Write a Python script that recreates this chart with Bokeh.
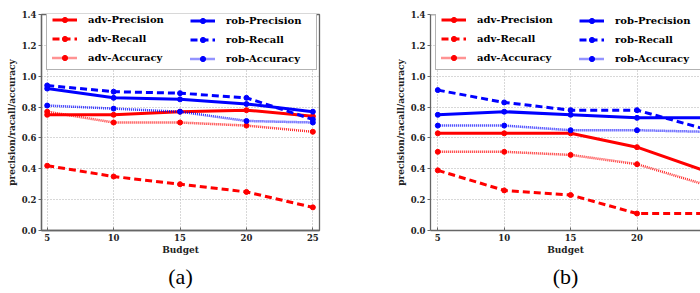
from bokeh.plotting import figure
from bokeh.layouts import row
from bokeh.models import (Range1d, FixedTicker, Legend, LegendItem, Title, Span,
                          PrintfTickFormatter)
from bokeh.embed import file_html
from bokeh.resources import INLINE

# ---------------- data ----------------
budget = [5, 10, 15, 20, 25]
y_ticks = [0.0, 0.2, 0.4, 0.6, 0.8, 1.0, 1.2, 1.4]

series_names = ["adv-Precision", "adv-Recall", "adv-Accuracy",
                "rob-Precision", "rob-Recall", "rob-Accuracy"]

a_adv_precision = [0.75, 0.75, 0.77, 0.78, 0.74]
a_adv_recall = [0.42, 0.35, 0.30, 0.25, 0.15]
a_adv_accuracy = [0.77, 0.70, 0.70, 0.68, 0.64]
a_rob_precision = [0.92, 0.86, 0.85, 0.82, 0.77]
a_rob_recall = [0.94, 0.90, 0.89, 0.86, 0.72]
a_rob_accuracy = [0.81, 0.79, 0.77, 0.71, 0.70]

b_adv_precision = [0.63, 0.63, 0.63, 0.54, 0.39]
b_adv_recall = [0.39, 0.26, 0.23, 0.11, 0.11]
b_adv_accuracy = [0.51, 0.51, 0.49, 0.43, 0.30]
b_rob_precision = [0.75, 0.77, 0.75, 0.73, 0.73]
b_rob_recall = [0.91, 0.83, 0.78, 0.78, 0.66]
b_rob_accuracy = [0.68, 0.68, 0.65, 0.65, 0.64]

# ---------------- styles ----------------
RED = "#ff0000"
BLUE = "#0000ff"
styles = [
    (RED, "solid", 3.0, 1.0),
    (RED, "7 4", 3.0, 1.0),
    (RED, "1 1", 2.5, 0.85),
    (BLUE, "solid", 3.0, 1.0),
    (BLUE, "7 4", 3.0, 1.0),
    (BLUE, "1 1", 2.5, 0.85),
]
FRAME = "#666666"
SERIF = "DejaVu Serif"


def make_panel(values, caption, x_start, x_end, frame_w, mb_left, mb_right,
               full_outline):
    p = figure(frame_width=frame_w, frame_height=216, output_backend="svg",
               toolbar_location=None,
               x_range=Range1d(x_start, x_end), y_range=Range1d(0, 1.4),
               min_border_left=mb_left, min_border_right=mb_right,
               min_border_top=14, min_border_bottom=0,
               background_fill_color="white", border_fill_color="white")
    p.outline_line_color = FRAME if full_outline else None
    p.outline_line_width = 1.3
    if not full_outline:
        p.add_layout(Span(location=1.4, dimension="width",
                          line_color=FRAME, line_width=1.3))

    items = []
    for name, vals, (col, dash, lw, alpha) in zip(series_names, values, styles):
        ln = p.line(budget, vals, line_color=col, line_dash=dash,
                    line_width=lw, line_alpha=alpha)
        sc = p.scatter(budget, vals, marker="circle", size=5,
                       fill_color=col, line_color=col)
        items.append(LegendItem(label=name, renderers=[ln, sc]))

    common = dict(label_text_font=SERIF, label_text_font_style="bold",
                  label_text_font_size="10px", label_text_color="black",
                  glyph_width=25, glyph_height=13, label_height=13,
                  label_standoff=11, spacing=6, padding=5, margin=0)
    leg1 = Legend(items=items[:3], location=(5, 160), label_width=223,
                  border_line_color=FRAME, border_line_width=1.3,
                  background_fill_color="white", background_fill_alpha=1.0,
                  **common)
    leg2 = Legend(items=items[3:], location=(149, 165), label_width=60,
                  border_line_color=None, background_fill_alpha=0.0,
                  **common)
    p.add_layout(leg1)
    p.add_layout(leg2)

    # axes
    p.xaxis.ticker = FixedTicker(ticks=budget)
    p.yaxis.ticker = FixedTicker(ticks=y_ticks)
    p.yaxis.formatter = PrintfTickFormatter(format="%.1f")
    for ax in (p.xaxis[0], p.yaxis[0]):
        ax.axis_line_color = FRAME
        ax.axis_line_width = 1.3
        ax.major_tick_line_color = FRAME
        ax.minor_tick_line_color = None
        ax.major_label_text_font = SERIF
        ax.major_label_text_font_style = "bold"
        ax.major_label_text_font_size = "8.5px"
        ax.major_label_text_color = "#222222"
        ax.axis_label_text_font = SERIF
        ax.axis_label_text_font_style = "bold"
        ax.axis_label_text_font_size = "9px"
        ax.axis_label_text_color = "#222222"
    p.xaxis.major_tick_out = 0
    p.xaxis.major_tick_in = 3
    p.xaxis.major_label_standoff = 3
    p.xaxis.axis_label_standoff = 1
    p.yaxis.major_tick_out = 3
    p.yaxis.major_tick_in = 0
    p.yaxis.major_label_standoff = 2
    p.yaxis.axis_label_standoff = 2
    p.xaxis.axis_label = "Budget"
    p.yaxis.axis_label = "precision/racall/accuracy"

    p.xgrid.grid_line_color = "#b0b0b0"
    p.xgrid.grid_line_dash = "1 2"
    p.ygrid.grid_line_color = "#b0b0b0"
    p.ygrid.grid_line_dash = "1 2"

    t = Title(text=caption, align="center", text_font="Liberation Serif",
              text_font_style="normal", text_font_size="22px",
              text_color="black", standoff=8)
    p.add_layout(t, "below")
    return p


pa = make_panel([a_adv_precision, a_adv_recall, a_adv_accuracy,
                 a_rob_precision, a_rob_recall, a_rob_accuracy],
                "(a)", 4.57, 25.5, 278, 41, 31, True)
pb = make_panel([b_adv_precision, b_adv_recall, b_adv_accuracy,
                 b_rob_precision, b_rob_recall, b_rob_accuracy],
                "(b)", 4.45, 24.78, 270, 80, 0, False)

layout = row(pa, pb, spacing=0)
open("out.html", "w").write(file_html(layout, INLINE))
